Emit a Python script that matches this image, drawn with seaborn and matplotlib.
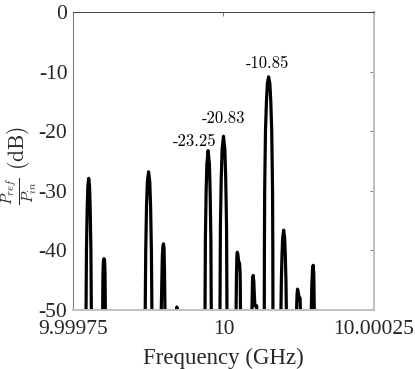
import numpy as np
import pandas as pd
import matplotlib
matplotlib.use("Agg")
import matplotlib.pyplot as plt
import seaborn as sns

# 频率偏移 (kHz, 相对 10 GHz) 与反射功率 (dB)，逐个旁瓣读图
lobe_x = [
    [-228.7, -228.4, -227.7, -226.5, -225.4, -224.0, -222.6, -221.5, -220.3, -219.6, -219.3],
    [-201.2, -200.8, -200.3, -199.6, -198.6, -197.6, -196.9, -196.3, -195.9],
    [-130.3, -130.05, -129.2, -127.85, -126.45, -124.5, -122.55, -121.15, -119.8, -118.95, -118.7],
    [-104.0, -103.4, -102.6, -101.6, -100.6, -99.7, -98.8, -97.9, -97.3, -96.8],
    [-78.3, -77.5, -76.7],
    [-31.2, -30.7, -30.05, -28.8, -27.6, -25.5, -23.4, -22.2, -20.95, -20.3, -19.8],
    [-6.0, -5.8, -5.1, -3.75, -2.25, 0.0, 2.25, 3.75, 5.1, 5.8, 6.0],
    [20.6, 21.0, 21.6, 22.3, 22.9, 23.8, 25.2, 26.8, 27.7, 28.3, 28.5],
    [46.8, 47.3, 48.2, 49.3, 50.4, 51.3, 52.2, 53.5, 55.2, 55.8],
    [67.65, 67.75, 68.0, 68.45, 69.8, 71.4, 72.9, 75.0, 77.1, 78.6, 80.2, 81.55, 82.0, 82.25, 82.35],
    [94.8, 95.5, 96.2, 97.2, 98.3, 100.0, 101.7, 102.8, 103.8, 104.5, 105.2],
    [120.8, 121.4, 122.3, 123.1, 124.2, 125.5, 127.2, 127.9, 128.3],
    [145.3, 145.9, 146.8, 147.9, 149.1, 150.1, 150.9, 151.5],
]
lobe_y = [
    [-60, -50, -40, -33, -29.2, -27.9, -29.2, -33, -40, -50, -60],
    [-60, -50, -44, -41.8, -41.4, -41.6, -43.5, -50, -60],
    [-60, -50, -40, -32.5, -28.4, -26.8, -28.4, -32.5, -40, -50, -60],
    [-60, -50, -46, -41, -39.3, -38.9, -39.6, -44, -50, -60],
    [-60, -49.5, -60],
    [-60, -50, -38, -30, -25.5, -23.25, -25.5, -30, -38, -50, -60],
    [-60, -50, -36, -28, -23, -20.83, -23, -28, -36, -50, -60],
    [-60, -50, -44, -41, -40.3, -40.6, -41.8, -42.2, -44, -50, -60],
    [-60, -50, -45.2, -44.2, -45.2, -47.5, -49.3, -49.4, -49.3, -60],
    [-60, -50, -40, -30, -20, -15, -12, -10.85, -12, -15, -20, -30, -40, -50, -60],
    [-60, -50, -45, -41, -38, -36.6, -38, -41, -45, -50, -60],
    [-60, -50, -47.3, -46.5, -47.0, -47.9, -48.0, -50, -60],
    [-60, -50, -46, -43.3, -42.5, -44, -50, -60],
]

# 峰值标注
peak_labels = ["-23.25", "-20.83", "-10.85"]
label_x = [-47.6, -0.2, 73.8]
label_y = [-22.5, -18.6, -9.4]

xticks = [9.99975, 10.0, 10.00025]
xtick_labels = ["9.99975", "10", "10.00025"]
yticks = [-50, -40, -30, -20, -10, 0]
ytick_labels = ["-50", "-40", "-30", "-20", "-10", "0"]

df = pd.DataFrame({
    "f": 10 + np.concatenate(lobe_x) * 1e-6,
    "p": np.concatenate(lobe_y),
})

sns.set_style("white")
plt.rcParams['font.family'] = ['Liberation Serif', 'DejaVu Serif']
plt.rcParams['mathtext.fontset'] = 'cm'

fig, ax = plt.subplots(figsize=(4.15, 3.69), dpi=100)
fig.subplots_adjust(left=0.176, right=0.901, bottom=0.160, top=0.967)

sns.lineplot(data=df, x="f", y="p", sort=False, estimator=None,
             color="black", linewidth=2.3, ax=ax)
ax.lines[0].set_solid_joinstyle("round")

for t, x, y in zip(peak_labels, label_x, label_y):
    ax.text(10 + x * 1e-6, y, t, ha="center", va="baseline",
            fontsize=12, family="cmr10", color="black")

ax.set_xlim(9.99975, 10.00025)
ax.set_ylim(-50, 0)
ax.set_xticks(xticks)
ax.set_xticklabels(xtick_labels)
ax.set_yticks(yticks)
ax.set_yticklabels(ytick_labels)
ax.tick_params(direction="in", length=3, color="#808080", labelsize=15.5,
               labelcolor="#262626", top=True, right=True, pad=4)
ax.tick_params(axis="x", pad=7.5)

ax.set_xlabel("Frequency (GHz)", fontsize=16.5, color="#262626", labelpad=6)
ax.set_ylabel(r"$\frac{P_{ref}}{P_{in}}$ (dB)", fontsize=15.5, family="cmr10",
              color="#262626")
ax.yaxis.set_label_coords(-0.113, 0.485)

ax.spines["top"].set_color("#404040")
ax.spines["top"].set_linewidth(0.7)
ax.spines["left"].set_color("#808080")
ax.spines["left"].set_linewidth(0.8)
ax.spines["right"].set_color("#c0c0c0")
ax.spines["right"].set_linewidth(1.4)
ax.spines["bottom"].set_color("#c0c0c0")
ax.spines["bottom"].set_linewidth(1.4)

fig.savefig("out.png", dpi=100)
